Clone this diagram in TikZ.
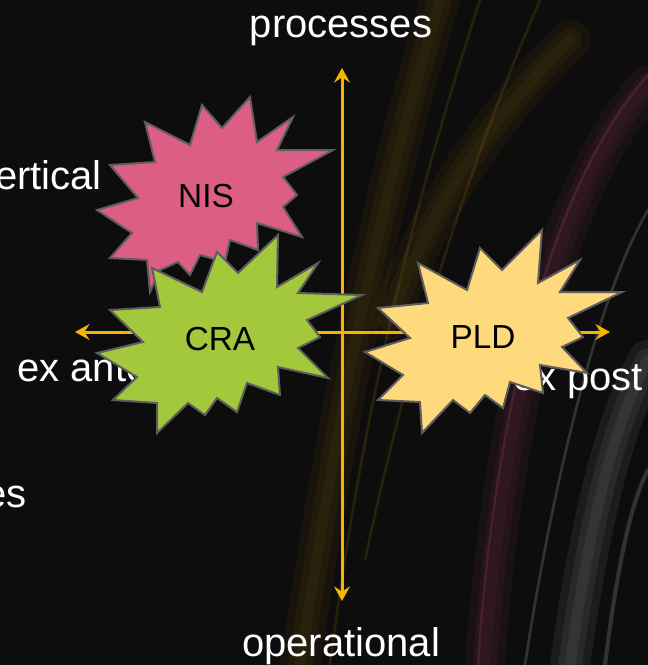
\documentclass[tikz,border=0pt]{standalone}
\usepackage{fontspec}
\setmainfont{Liberation Sans}
\usetikzlibrary{arrows.meta}

\definecolor{bgblack}{HTML}{0D0D0D}
\definecolor{axisorange}{HTML}{F6B400}
\definecolor{burstedge}{HTML}{5E5E5E}
\definecolor{nispink}{HTML}{DD5E85}
\definecolor{cragreen}{HTML}{A3C83C}
\definecolor{pldyellow}{HTML}{FFDA7D}
\definecolor{streakgold}{HTML}{6B4E0C}
\definecolor{streakpink}{HTML}{7A2E4A}
\definecolor{streakgrey}{HTML}{8A8A8A}

\tikzset{
    axislabel/.style={
        text=white,
        font=\fontsize{30}{36}\selectfont,
        inner sep=0pt
    },
    burst/.style={
        draw=burstedge,
        line width=1.5pt,
        line join=miter
    },
    burstlabel/.style={
        text=black,
        font=\fontsize{25}{30}\selectfont,
        inner sep=0pt
    },
    axis/.style={
        draw=axisorange,
        line width=2.25pt,
        {Stealth[length=11pt,width=12pt,inset=4pt]}-{Stealth[length=11pt,width=12pt,inset=4pt]}
    },
    streak/.style={line width=#1, line cap=round, opacity=0.12}
}

\begin{document}
\begin{tikzpicture}[x=0.75pt, y=-0.75pt]

% background
\clip (0,0) rectangle (648,665);
\fill[bgblack] (0,0) rectangle (648,665);

% faint streaks (soft glow: wide strokes under thin ones)
\foreach \w in {30pt,18pt,8pt} {
    \draw[streak=\w, streakgold] (300,665) .. controls (330,470) and (365,250) .. (440,0);
    \draw[streak=\w, streakgold] (390,320) .. controls (430,210) and (480,130) .. (570,40);
    \draw[streak=\w, streakpink] (485,665) .. controls (500,450) and (545,200) .. (648,85);
    \draw[streak=\w, streakgrey] (570,665) .. controls (590,520) and (615,420) .. (648,360);
}
\draw[streak=2pt, streakgold, opacity=0.3] (330,665) .. controls (355,470) and (395,260) .. (480,0);
\draw[streak=2pt, streakgold, opacity=0.3] (365,560) .. controls (395,420) and (445,220) .. (540,0);
\draw[streak=2pt, streakpink, opacity=0.4] (478,665) .. controls (492,450) and (540,195) .. (648,75);
\draw[streak=2pt, streakgrey, opacity=0.3] (525,665) .. controls (550,500) and (595,300) .. (648,210);
\draw[streak=3pt, streakgrey, opacity=0.3] (605,665) .. controls (618,560) and (632,500) .. (648,470);

% axes
\coordinate (top) at (342,68);
\coordinate (bottom) at (342,601);
\coordinate (left) at (75,332);
\coordinate (right) at (610,332);
\draw[axis] (bottom) -- (top);
\draw[axis] (left) -- (right);

% axis labels
\node (processes) [axislabel, anchor=base] at (341,37) {processes};
\node (operational) [axislabel, anchor=base] at (341,656) {operational};
\node (vertical) [axislabel, anchor=base east] at (102,189) {ertical};
\node (exante) [axislabel, anchor=base west] at (17,381) {ex ante};
\node (expost) [axislabel, anchor=base east] at (643,390) {ex post};
\node (es) [axislabel, anchor=base east] at (27,507) {es};

% NIS
\draw[burst, fill=nispink] (145,122) -- (190,145) -- (202,105) -- (222,128)
    -- (250,97) -- (257,142) -- (293,117) -- (277,150) -- (333,150)
    -- (283,177) -- (297,195) -- (283,207) -- (302,237) -- (257,223)
    -- (258,250) -- (230,240) -- (225,262) -- (200,255) -- (190,275)
    -- (178,262) -- (160,270) -- (150,292) -- (147,260) -- (110,258)
    -- (132,233) -- (97,210) -- (138,198) -- (110,165) -- (155,162)
    -- cycle;
\node (nis) [burstlabel, anchor=base] at (206,207) {NIS};

% CRA
\draw[burst, fill=cragreen] (152,268) -- (202,292) -- (217,252) -- (238,273)
    -- (278,235) -- (277,287) -- (318,263) -- (298,293) -- (362,295)
    -- (307,320) -- (320,337) -- (298,348) -- (328,378) -- (278,367)
    -- (280,395) -- (247,383) -- (237,412) -- (217,398) -- (205,415)
    -- (188,403) -- (157,433) -- (157,403) -- (113,400) -- (137,377)
    -- (97,353) -- (143,342) -- (110,310) -- (160,307) -- cycle;
\node (cra) [burstlabel, anchor=base] at (220,350) {CRA};

% PLD
\draw[burst, fill=pldyellow] (418,263) -- (467,290) -- (480,248) -- (502,270)
    -- (542,230) -- (538,283) -- (580,260) -- (560,292) -- (622,292)
    -- (568,318) -- (583,337) -- (562,347) -- (587,373) -- (540,365)
    -- (543,393) -- (510,382) -- (503,408) -- (485,395) -- (470,413)
    -- (453,400) -- (422,433) -- (420,402) -- (378,400) -- (403,375)
    -- (365,352) -- (410,338) -- (378,308) -- (428,303) -- cycle;
\node (pld) [burstlabel, anchor=base] at (483,348) {PLD};

\end{tikzpicture}
\end{document}
